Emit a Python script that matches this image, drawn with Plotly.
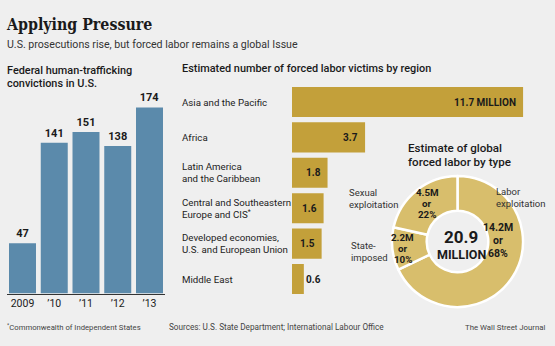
import plotly.graph_objects as go

# ---- data ----
years = ["2009", "’10", "’11", "’12", "’13"]
convictions = [47, 141, 151, 138, 174]

regions = ["Asia and the Pacific", "Africa", "Latin America<br>and the Caribbean",
           "Central and Southeastern<br>Europe and CIS<sup>*</sup>",
           "Developed economies,<br>U.S. and European Union", "Middle East"]
victims = [11.7, 3.7, 1.8, 1.6, 1.5, 0.6]
victim_labels = ["11.7 MILLION", "3.7", "1.8", "1.6", "1.5", "0.6"]

types = ["Labor<br>exploitation", "State-<br>imposed", "Sexual<br>exploitation"]
type_values = [14.2, 2.2, 4.5]
type_labels = ["14.2M<br>or<br>68%", "2.2M<br>or<br>10%", "4.5M<br>or<br>22%"]
total_label = "20.9"

W, H = 555, 346
def px(x):
    return x / W
def py(y):
    return 1 - y / H

BG = "#efefef"
BLUE = "#5b8aab"
GOLD = "#c3a03a"
LIGHTGOLD = "#d8be6c"
DARK = "#1a1a1a"
FONT = "Roboto"

fig = go.Figure()

# vertical bars
fig.add_trace(go.Bar(
    x=list(range(len(years))), y=convictions, marker_color=BLUE, marker_line_width=0,
    text=[str(v) for v in convictions], textposition="outside", cliponaxis=False,
    textfont=dict(family=FONT, size=11, color=DARK, weight="bold"),
    xaxis="x", yaxis="y", showlegend=False, hoverinfo="skip"))

# horizontal bars
fig.add_trace(go.Bar(
    y=list(range(len(regions))), x=victims, orientation="h", marker_color=GOLD,
    marker_line_width=0, xaxis="x2", yaxis="y2", showlegend=False, hoverinfo="skip"))

# donut
cx, cy, half = 457.5, 241.5, 65.5
fig.add_trace(go.Pie(
    labels=[t.replace("<br>", " ") for t in types], values=type_values, hole=0.47, sort=False,
    direction="clockwise", rotation=0, textinfo="none",
    marker=dict(colors=[LIGHTGOLD] * 3, line=dict(color="white", width=2.5)),
    domain=dict(x=[px(cx - half), px(cx + half)], y=[py(cy + half), py(cy - half)]),
    showlegend=False, hoverinfo="skip"))

bar_x0, bar_pitch = 22.5, 31.75
xlo = bar_x0 - bar_pitch / 2
xhi = xlo + bar_pitch * 5
base = 293.5
ypp = 1.069
fig.update_layout(
    width=W, height=H, margin=dict(l=0, r=0, t=0, b=0),
    paper_bgcolor=BG, plot_bgcolor=BG, bargap=0.15,
    font=dict(family=FONT, color=DARK),
    xaxis=dict(domain=[px(xlo), px(xhi)], range=[-0.5, 4.5], tickvals=list(range(5)), ticktext=years,
               showgrid=False, zeroline=False, showline=True, linecolor="#333", linewidth=1,
               ticks="", tickfont=dict(family=FONT, size=10.5, color=DARK), fixedrange=True),
    yaxis=dict(domain=[py(base), py(base - 200 * ypp)], range=[0, 200], visible=False, fixedrange=True),
    xaxis2=dict(domain=[px(292), px(292 + 12.5 * 19.75)], range=[0, 12.5], visible=False,
                anchor="y2", fixedrange=True),
    yaxis2=dict(domain=[py(102 + 35.4 * 5.5), py(102 - 35.4 * 0.5)], range=[5.5, -0.5], visible=False,
                anchor="x2", fixedrange=True),
)

ann = []
def A(text, x, y, size=11, xanchor="left", weight="normal", color=DARK, family=FONT, align="left", **kw):
    ann.append(dict(text=text, x=x, y=y, xref=kw.pop("xref", "paper"), yref=kw.pop("yref", "paper"),
                    xanchor=xanchor, yanchor=kw.pop("yanchor", "middle"), showarrow=False, align=align,
                    borderpad=0,
                    font=dict(size=size, color=color, family=family, weight=weight), **kw))

def ML(text, x, y_first, spacing, **kw):
    """multi-line text as separate annotations with tight line spacing (pixel y)"""
    for j, line in enumerate(text.split("<br>")):
        A(line, x, py(y_first + j * spacing), **kw)

# titles
A("Applying Pressure", px(5), py(25), size=15.8, weight="bold", family="DejaVu Serif Condensed")
A("U.S. prosecutions rise, but forced labor remains a global Issue", px(6), py(45), size=10.6, color="#333")
ML("Federal human-trafficking<br>convictions in U.S.", px(6), 70, 13.5, size=10.9, weight=500)
A("Estimated number of forced labor victims by region", px(181), py(68), size=10.9, weight=500)
ML("Estimate of global<br>forced labor by type", px(407), 148, 14, size=11.6, weight=500)

# region category labels and values
for i, (r, v, t) in enumerate(zip(regions, victims, victim_labels)):
    lines = r.split("<br>")
    n = len(lines)
    for j, line in enumerate(lines):
        A(line, px(181), i, size=9.7, yref="y2", color="#222", yshift=((n - 1) / 2 - j) * 12)
    if v >= 1:
        A(t, v, i, size=10, weight="bold", xanchor="right", xref="x2", yref="y2", xshift=-6)
    else:
        A(t, v, i, size=10, weight="bold", xanchor="left", xref="x2", yref="y2", xshift=1)

# donut labels (type names outside, values inside)
ML(types[0], px(495), 192, 11.5, size=9.5, color="#333")
ML(types[1], px(350), 245, 12, size=9.5, color="#333")
ML(types[2], px(348), 192.5, 11.5, size=9.5, color="#333")
ML(type_labels[0], px(498), 227, 13, size=10.5, weight="bold", xanchor="center")
ML(type_labels[1], px(402.5), 237.5, 11, size=9.8, weight="bold", xanchor="center")
ML(type_labels[2], px(427), 192.5, 11, size=9.8, weight="bold", xanchor="center")
A(total_label, px(461), py(237), size=17, weight="bold", xanchor="center")
A("MILLION", px(461), py(254), size=12.5, weight="bold", xanchor="center")

# footer
A("<sup>*</sup>Commonwealth of Independent States", px(6), py(327), size=7.7, color="#444")
A("Sources: U.S. State Department; International Labour Office", px(168), py(327), size=8.2, color="#444")
A("The Wall Street Journal", px(547), py(327), size=7.8, color="#444", xanchor="right")

fig.update_layout(annotations=ann)
fig.write_html("out.html")
